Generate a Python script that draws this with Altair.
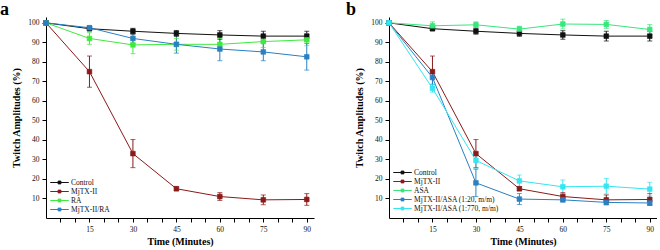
import altair as alt
import pandas as pd

times = [0, 15, 30, 45, 60, 75, 90]

# Panel a
control = [100, 97.0, 95.7, 94.6, 93.8, 93.2, 93.2]
control_err = [0, 1.0, 1.5, 1.5, 2.2, 2.5, 2.5]
mjtx = [100, 75.0, 33.0, 15.0, 11.0, 9.3, 9.5]
mjtx_err = [0, 8.0, 7.2, 1.0, 2.0, 2.5, 3.0]
ra = [100, 92.0, 88.7, 89.0, 89.0, 90.4, 91.3]
ra_err = [0, 3.0, 4.5, 3.0, 3.0, 3.0, 3.0]
mjtx_ra = [100, 97.5, 92.0, 89.0, 86.6, 85.1, 82.6]
mjtx_ra_err = [0, 1.0, 2.5, 4.5, 6.0, 4.5, 6.8]

# Panel b
asa = [100, 98.5, 99.0, 96.8, 99.4, 99.2, 96.6]
asa_err = [0, 2.0, 1.5, 1.5, 2.5, 2.0, 2.5]
asa20 = [100, 72.0, 18.0, 9.7, 9.3, 8.0, 7.7]
asa20_err = [0, 3.5, 7.0, 2.8, 1.0, 1.0, 1.0]
asa770 = [100, 66.5, 29.5, 19.0, 16.0, 16.3, 14.8]
asa770_err = [0, 2.0, 4.0, 3.0, 3.5, 4.0, 3.5]

x_tick_values = [5, 10, 15, 20, 25, 30, 35, 40, 45, 50, 55, 60, 65, 70, 75, 80, 85, 90]
y_tick_values = [10, 20, 30, 40, 50, 60, 70, 80, 90, 100]

series_a = [
    ("Control", control, control_err, "#111111"),
    ("MjTX-II", mjtx, mjtx_err, "#8B1A1A"),
    ("RA", ra, ra_err, "#3FEA3F"),
    ("MjTX-II/RA", mjtx_ra, mjtx_ra_err, "#2A80C2"),
]
series_b = [
    ("Control", control, control_err, "#111111"),
    ("MjTX-II", mjtx, mjtx_err, "#8B1A1A"),
    ("ASA", asa, asa_err, "#38E67C"),
    ("MjTX-II/ASA (1:20, m/m)", asa20, asa20_err, "#2A80C2"),
    ("MjTX-II/ASA (1:770, m/m)", asa770, asa770_err, "#33E6F2"),
]

FONT = "Liberation Serif"
SYMBOL = "M-1.85,0H1.85M-0.28,-0.28H0.28V0.28H-0.28Z"


def panel(series, letter, letter_dx):
    rows = []
    for name, vals, errs, _ in series:
        for t, v, e in zip(times, vals, errs):
            rows.append({"s": name, "t": t, "v": v, "lo": v - e, "hi": v + e, "e": e})
    df = pd.DataFrame(rows)
    names = [s[0] for s in series]
    colors = [s[3] for s in series]
    cscale = alt.Scale(domain=names, range=colors)
    leg = alt.Legend(
        title=None, orient="none", legendX=8, legendY=160 if len(series) == 4 else 150,
        symbolType=SYMBOL, symbolSize=100, symbolStrokeWidth=1, labelFont=FONT,
        labelFontSize=7.5, labelColor="#111", rowPadding=0, labelOffset=6, padding=0,
    )
    xs = alt.Scale(domain=[0, 92.5], nice=False, zero=False)
    ys = alt.Scale(domain=[0, 103], nice=False)
    xax = alt.Axis(
        values=x_tick_values, labelExpr="datum.value % 15 == 0 ? datum.label : ''",
        title="Time (Minutes)", grid=False, labelFlush=False, labelOverlap=False,
    )
    yax = alt.Axis(values=y_tick_values, title="Twitch Amplitudes (%)",
                   grid=False, labelOverlap=False)
    base = alt.Chart(df)
    line = base.mark_line(strokeWidth=1).encode(
        x=alt.X("t:Q", scale=xs, axis=xax),
        y=alt.Y("v:Q", scale=ys, axis=yax),
        stroke=alt.Stroke("s:N", scale=cscale, legend=leg),
        order="t:Q",
    )
    ebars = base.transform_filter("datum.e > 0")
    rule = ebars.mark_rule(strokeWidth=1).encode(
        x=alt.X("t:Q", axis=xax), y=alt.Y("lo:Q", axis=yax), y2="hi:Q",
        stroke=alt.Stroke("s:N", scale=cscale, legend=leg)
    )
    cap_lo = ebars.mark_tick(orient="horizontal", size=5, thickness=1).encode(
        x=alt.X("t:Q", axis=xax), y=alt.Y("lo:Q", axis=yax),
        color=alt.Color("s:N", scale=cscale, legend=None)
    )
    cap_hi = ebars.mark_tick(orient="horizontal", size=5, thickness=1).encode(
        x=alt.X("t:Q", axis=xax), y=alt.Y("hi:Q", axis=yax),
        color=alt.Color("s:N", scale=cscale, legend=None)
    )
    pts = base.mark_point(shape="square", size=22, filled=True, opacity=1, strokeWidth=0.6).encode(
        x=alt.X("t:Q", axis=xax), y=alt.Y("v:Q", axis=yax),
        fill=alt.Fill("s:N", scale=cscale, legend=leg),
        stroke=alt.Stroke("s:N", scale=cscale, legend=leg),
    )
    lab = alt.Chart(pd.DataFrame({"l": [letter]})).mark_text(
        font=FONT, fontSize=18, fontWeight="bold", align="left", baseline="alphabetic", color="#000"
    ).encode(x=alt.value(letter_dx), y=alt.value(-2.5), text="l:N")
    return alt.layer(line, rule, cap_lo, cap_hi, pts, lab).properties(width=268, height=201)


a = panel(series_a, "a", -46)
b = panel(series_b, "b", -43)

chart = alt.hconcat(a, b, spacing=75, bounds="flush").resolve_scale(
    stroke="independent", fill="independent", color="independent"
).properties(
    padding={"left": 0, "top": 0, "right": 0, "bottom": 0}
).configure_view(stroke=None).configure_axis(
    labelFont=FONT, titleFont=FONT, labelFontSize=7.5, titleFontSize=10, titleFontWeight="bold",
    labelColor="#111", titleColor="#000", domainColor="#000", tickColor="#000",
    tickSize=4, labelPadding=3, domainWidth=1, tickWidth=1, labelOverlap=False, labelSeparation=0,
).configure_axisX(titlePadding=4).configure_axisY(titlePadding=6)

chart.save("out.html", embed_options={"renderer": "svg", "actions": False})
